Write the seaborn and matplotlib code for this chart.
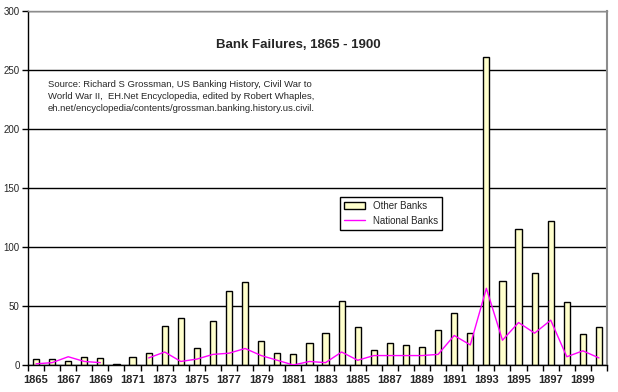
import numpy as np
import pandas as pd
import seaborn as sns
import matplotlib.pyplot as plt
from matplotlib.patches import Patch
from matplotlib.lines import Line2D
from matplotlib.ticker import MultipleLocator

years = list(range(1865, 1901))
other_banks = [5, 5, 3, 7, 6, 1, 7, 10, 33, 40,
               14, 37, 63, 70, 20, 10, 9, 19, 27, 54,
               32, 13, 19, 17, 15, 30, 44, 27, 261, 71,
               115, 78, 122, 53, 26, 32]
national_banks = [1, 2, 7, 3, 2, np.nan, np.nan, 6, 11, 3,
                  5, 9, 10, 14, 8, 4, 0, 3, 2, 11,
                  4, 8, 8, 8, 8, 9, 25, 17, 65, 21,
                  36, 27, 38, 7, 12, 6]
title = "Bank Failures, 1865 - 1900"
source = ("Source: Richard S Grossman, US Banking History, Civil War to\n"
          "World War II,  EH.Net Encyclopedia, edited by Robert Whaples,\n"
          "eh.net/encyclopedia/contents/grossman.banking.history.us.civil.")

df = pd.DataFrame({"year": years, "other": other_banks, "national": national_banks})

sns.set_style("white")
plt.rcParams["font.family"] = ["Liberation Sans", "DejaVu Sans"]

fig = plt.figure(figsize=(6.18, 3.92), dpi=100)
ax = fig.add_axes([28 / 618, 1 - 365 / 392, (607 - 28) / 618, (365 - 11) / 392])

sns.barplot(data=df, x="year", y="other", native_scale=True, width=0.38,
            color="#FFFFCC", edgecolor="black", linewidth=1, saturation=1, ax=ax)
ax.plot(df["year"], df["national"], color="#FF00FF", lw=1, zorder=3)

ax.set_xlim(1864.5, 1900.5)
ax.set_ylim(0, 300)
ax.yaxis.set_major_locator(MultipleLocator(50))
ax.set_xticks(years[::2])
ax.set_xticklabels([str(y) for y in years[::2]], fontsize=8, fontweight="bold")
ax.set_xticks(np.arange(1864.5, 1901, 1), minor=True)
ax.tick_params(axis="x", which="major", length=0, pad=7)
ax.tick_params(axis="x", which="minor", length=4, width=1, color="black", direction="out", bottom=True)
ax.tick_params(axis="y", length=4, width=1, color="black", direction="out", left=True, labelsize=7, pad=2)
ax.set_xlabel(None)
ax.set_ylabel(None)

ax.grid(True, axis="y", color="black", lw=1)
ax.set_axisbelow(True)
for side in ["left", "bottom"]:
    ax.spines[side].set_color("black")
    ax.spines[side].set_linewidth(1)
ax.spines["top"].set_color("0.55")
ax.spines["top"].set_linewidth(1)
ax.spines["right"].set_color("0.55")
ax.spines["right"].set_linewidth(1.5)

fig.text(298 / 618, 1 - 45 / 392, title, ha="center", va="center", fontsize=9.5, fontweight="bold")
fig.text(48 / 618, 1 - 80 / 392, source, ha="left", va="top", fontsize=6.8, linespacing=1.45)

handles = [Patch(facecolor="#FFFFCC", edgecolor="black", lw=1),
           Line2D([], [], color="#FF00FF", lw=1)]
leg = ax.legend(handles, ["Other Banks", "National Banks"], loc="upper left",
                bbox_to_anchor=(340 / 618, 1 - 197 / 392), bbox_transform=fig.transFigure,
                fancybox=False, edgecolor="black", framealpha=1, fontsize=7,
                borderaxespad=0, handlelength=2.2, handleheight=0.6, labelspacing=0.5)
leg.get_frame().set_linewidth(1)

fig.savefig("out.png", dpi=100)
